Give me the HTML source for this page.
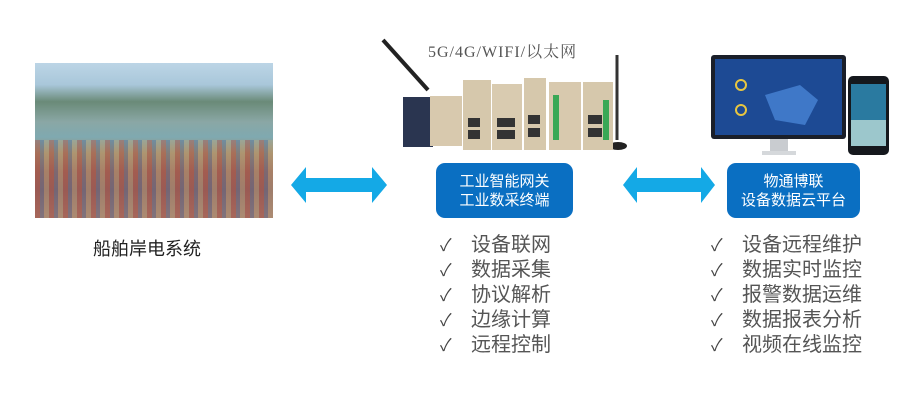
<!DOCTYPE html>
<html><head><meta charset="utf-8"><style>
body{margin:0;width:922px;height:402px;background:#fff;position:relative;overflow:hidden;font-family:"Liberation Sans","Noto Sans CJK SC",sans-serif}
.a{position:absolute}
.box{position:absolute;background:#0a6fc2;border-radius:9px;color:#fff;font-size:15px;line-height:19px;text-align:center;box-sizing:border-box;padding-top:9px}
.li{position:absolute;font-size:20px;color:#555;line-height:25px;white-space:nowrap}
.li span{display:inline-block;width:31px;color:#444;font-size:17px}
</style></head><body>
<div class="a" style="left:35px;top:63px;width:238px;height:155px;background:linear-gradient(180deg,#bcd5e6 0%,#a9c7da 14%,#6a8a78 25%,#8aa7a5 38%,#7fa9b0 48%,#a28c6e 58%,#9a6e60 70%,#8d6a66 82%,#a07e70 100%)"></div>
<div class="a" style="left:35px;top:140px;width:238px;height:78px;background:repeating-linear-gradient(90deg,rgba(180,60,50,.35) 0 5px,rgba(60,90,150,.3) 5px 9px,rgba(200,170,120,.3) 9px 14px)"></div>
<div class="a" style="left:93px;top:235px;font-size:18px;color:#222">船舶岸电系统</div>

<svg class="a" style="left:0;top:0" width="922" height="402">
<polygon points="291,185 306,167 306,178 372,178 372,167 387,185 372,203 372,192 306,192 306,203" fill="#14a9e6"/>
<polygon points="623,185 637,167 637,178 701,178 701,167 715,185 701,203 701,192 637,192 637,203" fill="#14a9e6"/>
<line x1="383" y1="40" x2="428" y2="90" stroke="#222" stroke-width="4"/>
<line x1="617" y1="55" x2="617" y2="140" stroke="#333" stroke-width="3"/>
<ellipse cx="618" cy="146" rx="9" ry="4" fill="#222"/>
<rect x="403" y="97" width="30" height="50" fill="#2a3550"/>
<rect x="430" y="96" width="32" height="50" fill="#d8c9ae"/>
<rect x="463" y="80" width="28" height="70" fill="#d6c8ac"/>
<rect x="492" y="84" width="30" height="66" fill="#d9cbb0"/>
<rect x="524" y="78" width="22" height="72" fill="#d6c8ac"/>
<rect x="549" y="82" width="32" height="68" fill="#d8c9ae"/>
<rect x="583" y="82" width="30" height="68" fill="#d6c8ac"/>
<g fill="#333"><rect x="468" y="118" width="12" height="9"/><rect x="468" y="130" width="12" height="9"/><rect x="497" y="118" width="18" height="9"/><rect x="497" y="130" width="18" height="9"/><rect x="528" y="115" width="12" height="9"/><rect x="528" y="128" width="12" height="9"/><rect x="588" y="115" width="14" height="9"/><rect x="588" y="128" width="14" height="9"/></g>
<g fill="#3aa856"><rect x="553" y="95" width="6" height="45"/><rect x="603" y="100" width="6" height="40"/></g>
<rect x="711" y="55" width="135" height="84" rx="3" fill="#1a1f2a"/>
<rect x="715" y="59" width="127" height="76" fill="#1d4a94"/>
<polygon points="765,95 800,85 818,100 805,125 775,120" fill="#3f78c8"/>
<circle cx="741" cy="85" r="5" fill="none" stroke="#e8c640" stroke-width="2"/>
<circle cx="741" cy="110" r="5" fill="none" stroke="#e8c640" stroke-width="2"/>
<rect x="770" y="139" width="18" height="12" fill="#c9ccd0"/>
<rect x="762" y="151" width="34" height="4" fill="#d5d8db"/>
<rect x="848" y="76" width="41" height="79" rx="5" fill="#15181d"/>
<rect x="851" y="84" width="35" height="62" fill="#2a7aa0"/>
<rect x="851" y="120" width="35" height="26" fill="#9cc7cc"/>
</svg>
<div class="a" style="left:428px;top:39px;font-family:'Liberation Serif','Noto Serif CJK SC',serif;font-size:16px;letter-spacing:1px;color:#555">5G/4G/WIFI/以太网</div>
<div class="box" style="left:436px;top:163px;width:137px;height:55px">工业智能网关<br>工业数采终端</div>
<div class="box" style="left:727px;top:163px;width:133px;height:55px">物通博联<br>设备数据云平台</div>

<div class="li" style="left:440px;top:233px"><span>✓</span>设备联网<br><span>✓</span>数据采集<br><span>✓</span>协议解析<br><span>✓</span>边缘计算<br><span>✓</span>远程控制</div>
<div class="li" style="left:711px;top:233px"><span>✓</span>设备远程维护<br><span>✓</span>数据实时监控<br><span>✓</span>报警数据运维<br><span>✓</span>数据报表分析<br><span>✓</span>视频在线监控</div>
</body></html>
